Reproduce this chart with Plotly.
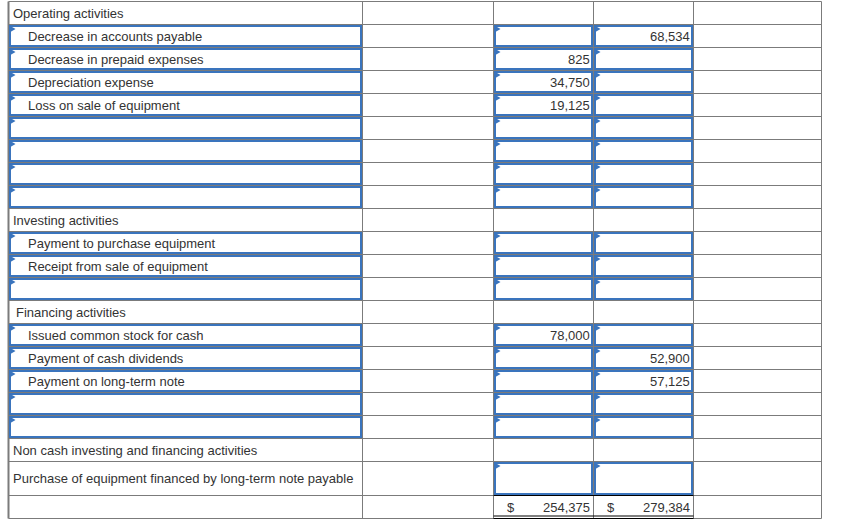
import plotly.graph_objects as go

# ---------------- data ----------------
labels = [
    "Operating activities",
    "Decrease in accounts payable",
    "Decrease in prepaid expenses",
    "Depreciation expense",
    "Loss on sale of equipment",
    "", "", "", "",
    "Investing activities",
    "Payment to purchase equipment",
    "Receipt from sale of equipment",
    "",
    "Financing activities",
    "Issued common stock for cash",
    "Payment of cash dividends",
    "Payment on long-term note",
    "", "",
    "Non cash investing and financing activities",
    "Purchase of equipment financed by long-term note payable",
    "",
]
# row kinds: h = header/plain, i = input row, n = label plain + number inputs, t = total
kinds = ["h", "i", "i", "i", "i", "i", "i", "i", "i",
         "h", "i", "i", "i",
         "h", "i", "i", "i", "i", "i",
         "h", "n", "t"]
col_a = [None, None, 825, 34750, 19125, None, None, None, None,
         None, None, None, None,
         None, 78000, None, None, None, None,
         None, None, 254375]
col_b = [None, 68534, None, None, None, None, None, None, None,
         None, None, None, None,
         None, None, 52900, 57125, None, None,
         None, None, 279384]

# ---------------- geometry ----------------
W, H = 843, 523
GRAY = "#7b7b7b"
BLUE = "#3a74bd"
TXT = "#333333"
FONT = "Liberation Sans, Arial, sans-serif"

col_x = [8.5, 362.5, 493.5, 593.5, 693.5, 821.5]
row_h = [34 if k == "n" else 23 for k in kinds]
row_top = [1.5]
for h in row_h:
    row_top.append(row_top[-1] + h)

shapes = []

def line(x0, y0, x1, y1, color=GRAY, w=1):
    shapes.append(dict(type="line", x0=x0, y0=y0, x1=x1, y1=y1,
                       xref="x", yref="y", line=dict(color=color, width=w)))

# grid
for y in row_top:
    line(col_x[0], y, col_x[-1], y)
for i, x in enumerate(col_x):
    line(x, row_top[0], x, row_top[-1], w=2 if i == 0 else 1)

def input_box(x0, x1, top, bot):
    shapes.append(dict(type="rect", x0=x0, x1=x1, y0=top + 1.5, y1=bot - 1.5,
                       xref="x", yref="y", fillcolor="white",
                       line=dict(color=BLUE, width=2)))
    tx, ty = x0 - 0.5, top + 1
    shapes.append(dict(type="path",
                       path=f"M {tx},{ty} L {tx+6},{ty+3.5} L {tx},{ty+7} Z",
                       xref="x", yref="y", fillcolor=BLUE, line=dict(width=0)))

for r, k in enumerate(kinds):
    top, bot = row_top[r], row_top[r + 1]
    if k == "i":
        input_box(col_x[0] + 1.5, col_x[1] - 1.5, top, bot)
    if k in ("i", "n"):
        input_box(col_x[2] + 1.5, col_x[3] - 1.5, top, bot)
        input_box(col_x[3] + 1.5, col_x[4] - 1.5, top, bot)
    if k == "t":
        line(col_x[2], top, col_x[4], top, color="black", w=1.2)
        line(col_x[2], bot - 2.5, col_x[4], bot - 2.5, color="black", w=1.2)
        line(col_x[2], bot, col_x[4], bot, color="black", w=1.2)

# ---------------- text ----------------
lab_x, lab_y, lab_t = [], [], []
for r, (t, k) in enumerate(zip(labels, kinds)):
    if not t:
        continue
    indent = 27 if k == "i" else (15 if t.startswith("Financing") else 12)
    lab_x.append(indent)
    lab_y.append((row_top[r] + row_top[r + 1]) / 2)
    lab_t.append(t)

num_x, num_y, num_t = [], [], []
dol_x, dol_y = [], []
for r, (a, b, k) in enumerate(zip(col_a, col_b, kinds)):
    yc = (row_top[r] + row_top[r + 1]) / 2
    for v, right in ((a, col_x[3] - 3), (b, col_x[4] - 3)):
        if v is not None:
            num_x.append(right)
            num_y.append(yc)
            num_t.append(f"{v:,}")
            if k == "t":
                dol_x.append(right - 85)
                dol_y.append(yc)

annotations = []
for x, y, t in zip(lab_x, lab_y, lab_t):
    annotations.append(dict(x=x, y=y, text=t, xanchor="left", yanchor="middle",
                            showarrow=False, xref="x", yref="y", borderpad=0,
                            font=dict(family=FONT, size=13, color=TXT)))
for x, y, t in zip(num_x, num_y, num_t):
    annotations.append(dict(x=x, y=y, text=t, xanchor="right", yanchor="middle",
                            showarrow=False, xref="x", yref="y", borderpad=0,
                            font=dict(family=FONT, size=13, color=TXT)))
for x, y in zip(dol_x, dol_y):
    annotations.append(dict(x=x, y=y, text="$", xanchor="left", yanchor="middle",
                            showarrow=False, xref="x", yref="y", borderpad=0,
                            font=dict(family=FONT, size=13, color=TXT)))

fig = go.Figure()
fig.add_trace(go.Scatter(x=[0, W], y=[0, H], mode="markers",
                         marker=dict(opacity=0), hoverinfo="skip", showlegend=False))
fig.update_layout(
    width=W, height=H, margin=dict(l=0, r=0, t=0, b=0),
    paper_bgcolor="white", plot_bgcolor="white",
    xaxis=dict(range=[0, W], visible=False, fixedrange=True),
    yaxis=dict(range=[H, 0], visible=False, fixedrange=True),
    shapes=shapes, annotations=annotations, showlegend=False,
)
fig.write_html("out.html", config={"displayModeBar": False},
               post_script="document.body.style.margin='0';document.body.style.overflow='hidden';")
